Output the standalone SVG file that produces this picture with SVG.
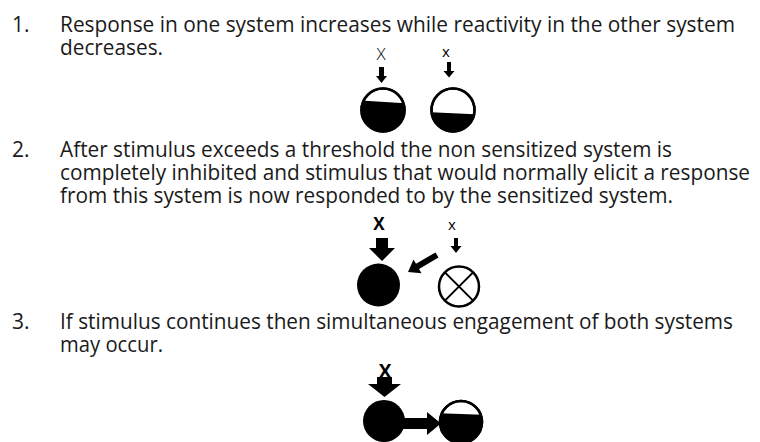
<svg xmlns="http://www.w3.org/2000/svg" width="760" height="442" viewBox="0 0 760 442">
<style>
.t{font-family:"Open Sans","Liberation Sans",sans-serif;font-size:21px;fill:#1a1a1a}
.k{fill:#000}
.o{fill:#fff;stroke:#000;stroke-width:2.5}
.lx{font-family:"Open Sans","Liberation Sans",sans-serif;fill:#000;text-anchor:middle}
</style>
<defs>
<clipPath id="c1"><circle cx="383" cy="110" r="21.5"/></clipPath>
<clipPath id="c2"><circle cx="453" cy="110" r="21.5"/></clipPath>
<clipPath id="c3"><circle cx="461" cy="422" r="21"/></clipPath>
</defs>
<rect width="760" height="442" fill="#fff"/>
<g id="text1">
<text class="t" x="12" y="32">1.</text>
<text class="t" x="60" y="32" textLength="675" lengthAdjust="spacingAndGlyphs">Response in one system increases while reactivity in the other system</text>
<text class="t" x="60" y="55" textLength="103" lengthAdjust="spacingAndGlyphs">decreases.</text>
</g>
<g id="text2">
<text class="t" x="12" y="157">2.</text>
<text class="t" x="60" y="157" textLength="612" lengthAdjust="spacingAndGlyphs">After stimulus exceeds a threshold the non sensitized system is</text>
<text class="t" x="60" y="180" textLength="690" lengthAdjust="spacingAndGlyphs">completely inhibited and stimulus that would normally elicit a response</text>
<text class="t" x="60" y="203" textLength="613" lengthAdjust="spacingAndGlyphs">from this system is now responded to by the sensitized system.</text>
</g>
<g id="text3">
<text class="t" x="12" y="329">3.</text>
<text class="t" x="60" y="329" textLength="673" lengthAdjust="spacingAndGlyphs">If stimulus continues then simultaneous engagement of both systems</text>
<text class="t" x="60" y="352" textLength="103" lengthAdjust="spacingAndGlyphs">may occur.</text>
</g>
<g id="labels">
<text class="lx" x="381" y="60" font-size="17" font-weight="300">X</text>
<text class="lx" x="446" y="57" font-size="15">x</text>
<text class="lx" x="379" y="230" font-size="17" font-weight="bold">X</text>
<text class="lx" x="452" y="230" font-size="15">x</text>
<text class="lx" x="385" y="378" font-size="19" font-weight="bold">X</text>
</g>
<g id="node1a">
<circle class="o" cx="383" cy="110" r="21.5"/>
<polygon class="k" clip-path="url(#c1)" points="355,100 411,103.5 411,140 355,140"/>
<circle cx="383" cy="110" r="21.5" fill="none" stroke="#000" stroke-width="2.5"/>
</g>
<g id="node1b">
<circle class="o" cx="453" cy="110" r="21.5"/>
<polygon class="k" clip-path="url(#c2)" points="425,112 481,114.5 481,140 425,140"/>
<circle cx="453" cy="110" r="21.5" fill="none" stroke="#000" stroke-width="2.5"/>
</g>
<g id="node2a">
<circle class="k" cx="378.5" cy="285" r="21.5"/>
</g>
<g id="node2b">
<circle class="o" cx="459" cy="286.5" r="20" stroke-width="2"/>
<path d="M444.9,272.4 L473.1,300.6 M473.1,272.4 L444.9,300.6" stroke="#000" stroke-width="2" fill="none"/>
</g>
<g id="node3a">
<circle class="k" cx="384" cy="421" r="21"/>
</g>
<g id="node3b">
<circle class="o" cx="461" cy="422" r="21"/>
<polygon class="k" clip-path="url(#c3)" points="435,413 487,415 487,450 435,450"/>
<circle cx="461" cy="422" r="21" fill="none" stroke="#000" stroke-width="2.5"/>
</g>
<g id="connectors">
<polygon class="k" points="379,67 384,67 384,76 387,76 381.5,83 376,76 379,76"/>
<polygon class="k" points="447,62 451,62 451,71 454.5,71 449,77.5 443.5,71 447,71"/>
<polygon class="k" points="376,238 388,238 388,248 395,248 382,261 369,248 376,248"/>
<polygon class="k" points="454,238 458,238 458,246 461.5,246 456,253 450.5,246 454,246"/>
<polygon class="k" points="438.5,257.6 419,269 421.5,273.3 408,272 413.5,259.5 416,263.8 435.5,252.4"/>
<polygon class="k" points="377,377 392,377 392,384 401,384 384.5,397 368,384 377,384"/>
<polygon class="k" points="403,418 427,418 427,412 441,423.5 427,435 427,429 403,429"/>
</g>
</svg>
